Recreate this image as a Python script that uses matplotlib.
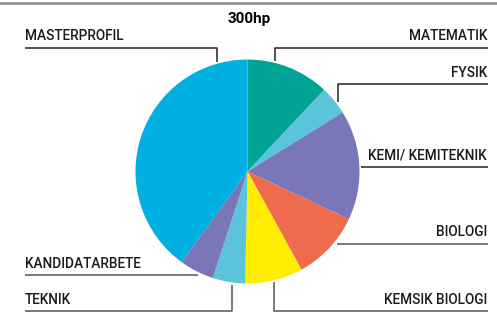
import numpy as np
import matplotlib.pyplot as plt
from matplotlib.lines import Line2D

labels = ['MATEMATIK', 'FYSIK', 'KEMI/ KEMITEKNIK', 'BIOLOGI', 'KEMSIK BIOLOGI',
          'TEKNIK', 'KANDIDATARBETE', 'MASTERPROFIL']
hp = [36, 12.5, 47.5, 30, 25, 14, 15, 120]
colors = ['#00a396', '#5bc4da', '#7977b8', '#ee6b4d', '#ffec00',
          '#5bc4da', '#7977b8', '#00b0e0']

W, H = 497, 313
fig = plt.figure(figsize=(W / 100, H / 100), dpi=100)
fig.patch.set_facecolor('white')

# pixel coordinate axes for the whole figure (y down)
bg = fig.add_axes([0, 0, 1, 1])
bg.set_xlim(0, W)
bg.set_ylim(H, 0)
bg.axis('off')

# pie: center ~ (247.5, 171.5), radius ~112 px
cx, cy, r = 247.5, 171.5, 112
ax = fig.add_axes([(cx - r) / W, 1 - (cy + r) / H, 2 * r / W, 2 * r / H])
ax.pie(hp, colors=colors, startangle=90, counterclock=False,
       wedgeprops=dict(linewidth=0))
ax.set_aspect('auto')
ax.set_xlim(-1, 1)
ax.set_ylim(-1, 1)

# grey rule along the top edge
fig.add_artist(Line2D([0, 1], [1 - 3 / H, 1 - 3 / H], transform=fig.transFigure,
                      color='#8a8a8a', lw=1.8))
bg.text(249, 19, '300hp', ha='center', va='center', fontsize=11,
        fontweight='bold', family='Roboto')

fs = 9.8
dark = '#222222'
grey = '#555555'

# leader lines: (points), text pos, alignment, colour
leaders = [
    ([(274.5, 61), (274.5, 47.5), (488, 47.5)], (487, 36), 'right', dark),
    ([(338, 102), (338, 84), (488, 84)], (487, 73), 'right', dark),
    ([(361, 166.5), (488, 166.5)], (487, 155.5), 'right', dark),
    ([(337, 243.5), (488, 243.5)], (487, 232.5), 'right', grey),
    ([(273.5, 282), (273.5, 311), (488, 311)], (487, 300), 'right', grey),
    ([(231.5, 285), (231.5, 310.5), (25, 310.5)], (25, 299.5), 'left', grey),
    ([(198, 274.5), (25, 274.5)], (25, 263.5), 'left', grey),
    ([(217, 61.5), (217, 47.5), (25, 47.5)], (25, 36), 'left', dark),
]

for lab, (pts, tpos, ha, c) in zip(labels, leaders):
    xs = [p[0] for p in pts]
    ys = [p[1] for p in pts]
    bg.plot(xs, ys, color=c, lw=1.1, solid_capstyle='butt')
    bg.text(tpos[0], tpos[1], lab, ha=ha, va='center', fontsize=fs,
            family='Roboto', fontweight='medium', color='#1a1a1a')

fig.savefig('out.png', dpi=100)
